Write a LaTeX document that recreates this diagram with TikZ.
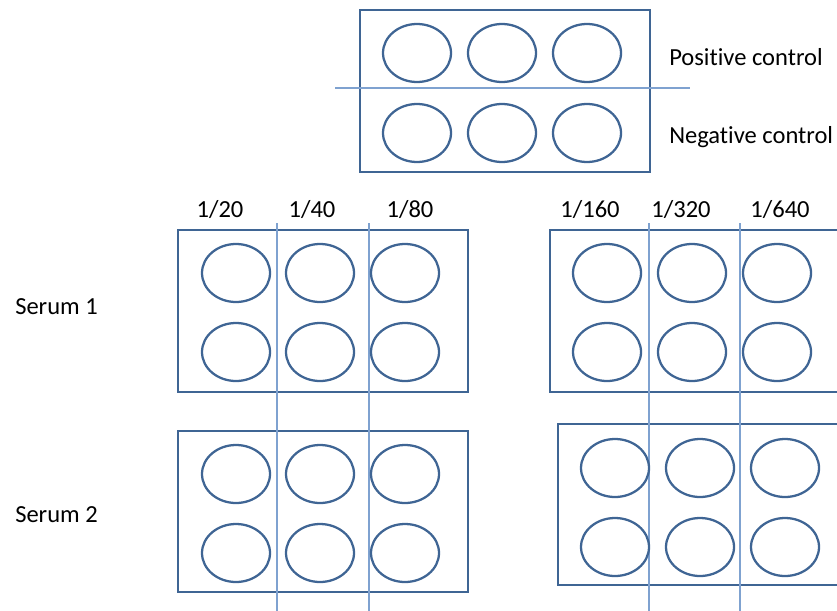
\documentclass[tikz,border=0pt]{standalone}
\usepackage{fontspec}
\setmainfont[Ligatures={NoCommon}]{Carlito}
\usetikzlibrary{shapes.geometric}
\definecolor{boxblue}{HTML}{3F6594}
\definecolor{lineblue}{HTML}{7FA2D0}
\begin{document}
\begin{tikzpicture}[x=0.75pt,y=-0.75pt,
  well/.style={draw=boxblue,line width=1.7pt,ellipse,inner sep=0pt,minimum width=51pt,minimum height=43.5pt},
  plate/.style={draw=boxblue,line width=1.9pt},
  divider/.style={draw=lineblue,line width=0.8pt},
  lbl/.style={font=\fontsize{18.4}{20}\selectfont,inner sep=0pt}]
\useasboundingbox (0,0) rectangle (837,610);
\clip (0,0) rectangle (837,610);
% top control plate
\draw[plate] (360,10) rectangle (650,172);
\coordinate (hl) at (335,88); \coordinate (hr) at (690,88);
\draw[divider] (hl) -- (hr);
\foreach \x/\n in {417/a,502/b,587/c}{
  \node[well] (p\n) at (\x,53) {};
  \node[well] (n\n) at (\x,133) {};
}
\node[lbl,anchor=west] (pos) at (669,57) {Positive control};
\node[lbl,anchor=west] (neg) at (669,137) {Negative control};
% dilution labels
\node[lbl] (d1) at (220,210) {1/20};
\node[lbl] (d2) at (312,210) {1/40};
\node[lbl] (d3) at (410,210) {1/80};
\node[lbl] (d4) at (590,210) {1/160};
\node[lbl] (d5) at (681,210) {1/320};
\node[lbl] (d6) at (780,210) {1/640};
% serum labels
\node[lbl,anchor=west] (s1) at (15,307) {Serum 1};
\node[lbl,anchor=west] (s2) at (15,515) {Serum 2};
% plates
\draw[plate] (178,230) rectangle (468,392);
\draw[plate] (550,230) rectangle (860,392);
\draw[plate] (178,431) rectangle (468,592);
\draw[plate] (558,424) rectangle (860,585);
% vertical dividers
\foreach \x/\n in {277/a,369/b,649/c,740/d}{
  \coordinate (vt\n) at (\x,223);
  \coordinate (vb\n) at (\x,612);
  \draw[divider] (vt\n) -- (vb\n);
}
% wells
\foreach \x/\n in {236/a,320/b,405/c}{
  \node[well] (sa\n) at (\x,273) {};
  \node[well] (sb\n) at (\x,352) {};
  \node[well] (sc\n) at (\x,474) {};
  \node[well] (sd\n) at (\x,553) {};
}
\foreach \x/\n in {607/a,692/b,777/c}{
  \node[well] (ta\n) at (\x,273) {};
  \node[well] (tb\n) at (\x,352) {};
}
\foreach \x/\n in {615/a,700/b,785/c}{
  \node[well] (tc\n) at (\x,468) {};
  \node[well] (td\n) at (\x,547) {};
}
\end{tikzpicture}
\end{document}
